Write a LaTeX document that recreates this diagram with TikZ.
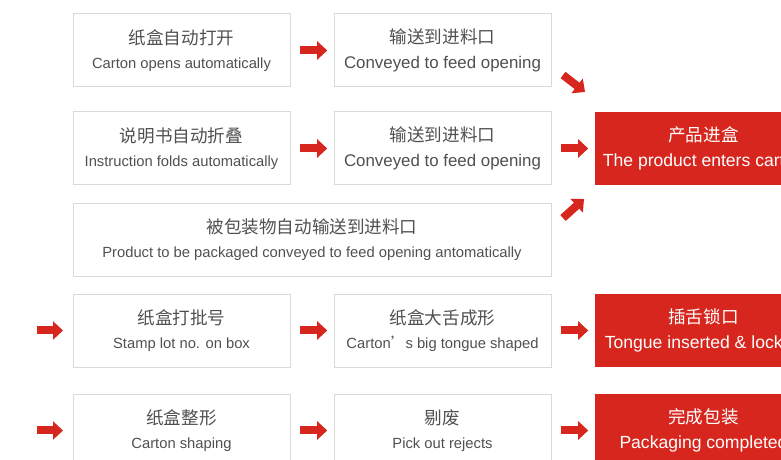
\documentclass[tikz,border=0pt]{standalone}
\usepackage{fontspec}
\setmainfont{Liberation Sans}
\newfontfamily\cjk{Noto Sans CJK SC}
\usepackage{xcolor}
\usetikzlibrary{arrows.meta,positioning,calc}
\definecolor{brandred}{RGB}{215,38,30}
\definecolor{boxgray}{RGB}{217,217,217}
\definecolor{txtgray}{RGB}{80,80,80}
\newcommand{\zhline}[1]{{\cjk\fontsize{12.5}{17.5}\selectfont #1}}
\newcommand{\enline}[2][10.5]{{\fontsize{#1}{17.5}\selectfont #2}}
\tikzset{
  stepbox/.style={draw=boxgray, line width=0.7pt, align=center, text=txtgray, minimum width=5.425cm, minimum height=1.825cm, inner sep=0pt, outer sep=0pt, font=\fontsize{10.5}{17.5}\selectfont},
  redbox/.style={stepbox, draw=none, fill=brandred, text=white},
  flow/.style={-{Triangle[length=0.25cm, width=0.45cm]}, line width=0.2cm, draw=brandred, shorten <=0.25cm, shorten >=0.17cm},
  slant/.style={flow, shorten <=0pt, shorten >=0pt}
}
\begin{document}
\begin{tikzpicture}[node distance=0.625cm and 1.1cm]
  \useasboundingbox (0,0) rectangle (19.525,11.5);
  \clip (0,0) rectangle (19.525,11.5);
  % carton and instruction lines
  \node[stepbox] (open) at (4.5375,10.2375) {\zhline{纸盒自动打开}\\\enline{Carton opens automatically}};
  \node[stepbox, right=of open] (conv1) {\zhline{输送到进料口}\\\enline[12]{Conveyed to feed opening}};
  \node[stepbox, below=of open] (fold) {\zhline{说明书自动折叠}\\\enline{Instruction folds automatically}};
  \node[stepbox, right=of fold] (conv2) {\zhline{输送到进料口}\\\enline[12]{Conveyed to feed opening}};
  \node[redbox, right=of conv2] (enter) {\zhline{产品进盒}\\\enline[12.5]{The product enters carton}};
  \node[stepbox, minimum width=11.95cm, below right=0.45cm and 0cm of fold.south west] (prod) {\zhline{被包装物自动输送到进料口}\\\enline{Product to be packaged conveyed to feed opening antomatically}};
  % closing line
  \node[stepbox, below right=0.45cm and 0cm of prod.south west] (stamp) {\zhline{纸盒打批号}\\\enline{Stamp lot no. on box}};
  \node[stepbox, right=of stamp] (tongue) {\zhline{纸盒大舌成形}\\\enline{Carton{\cjk ’}s big tongue shaped}};
  \node[redbox, right=of tongue] (lock) {\zhline{插舌锁口}\\\enline[12.5]{Tongue inserted \& locked}};
  \node[stepbox, below=0.675cm of stamp] (shape) {\zhline{纸盒整形}\\\enline{Carton shaping}};
  \node[stepbox, right=of shape] (reject) {\zhline{剔废}\\\enline{Pick out rejects}};
  \node[redbox, right=of reject] (done) {\zhline{完成包装}\\\enline[12.5]{Packaging completed}};
  \coordinate[left=of stamp] (in4);
  \coordinate[left=of shape] (in5);

  \draw[flow] (open) -- (conv1);
  \draw[flow] (fold) -- (conv2);
  \draw[flow] (conv2) -- (enter);
  \draw[slant] ($(conv1.south east)+(0.3,0.3)$) -- ($(enter.north west)+(-0.25,0.5)$);
  \draw[slant] ($(prod.north east)+(0.3,-0.375)$) -- ($(enter.south west)+(-0.275,-0.35)$);
  \draw[flow, shorten <=0.2cm, shorten >=0.25cm] (in4) -- (stamp);
  \draw[flow] (stamp) -- (tongue);
  \draw[flow] (tongue) -- (lock);
  \draw[flow, shorten <=0.2cm, shorten >=0.25cm] (in5) -- (shape);
  \draw[flow] (shape) -- (reject);
  \draw[flow] (reject) -- (done);
\end{tikzpicture}
\end{document}
